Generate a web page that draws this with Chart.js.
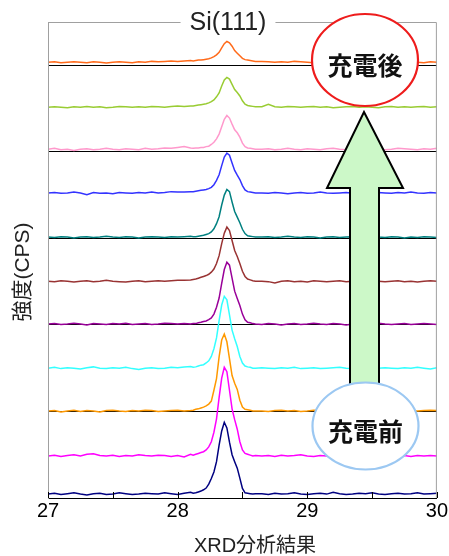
<!DOCTYPE html>
<html>
<head>
<meta charset="utf-8">
<script src="https://cdn.jsdelivr.net/npm/chart.js@4"></script>
<style>
  body { margin: 0; background: #fff; }
  #wrap { width: 449px; height: 556px; }
</style>
</head>
<body>
<div id="wrap"><canvas id="xrdChart"></canvas></div>
<script>
// 2theta (deg)
const angles = [
  27.00, 27.05, 27.10, 27.15, 27.20, 27.25, 27.30, 27.35, 27.40, 27.45, 27.50, 27.55,
  27.60, 27.65, 27.70, 27.75, 27.80, 27.85, 27.90, 27.95, 28.00, 28.05, 28.10,
  28.12, 28.14, 28.16, 28.18, 28.20, 28.22, 28.24, 28.26, 28.28, 28.30, 28.32, 28.34,
  28.36, 28.38, 28.40, 28.42, 28.44, 28.46, 28.48, 28.50, 28.52, 28.54, 28.56, 28.58, 28.60,
  28.65, 28.70, 28.75, 28.80, 28.85, 28.90, 28.95, 29.00, 29.05, 29.10, 29.15, 29.20,
  29.25, 29.30, 29.35, 29.40, 29.45, 29.50, 29.55, 29.60, 29.65, 29.70, 29.75, 29.80,
  29.85, 29.90, 29.95, 30.00
];

// intensities, bottom trace (充電前) first, top trace (充電後) last
const trace1 = [
  9, 11, 8, 10, 12, 9, 7, 10, 11, 8, 9, 12, 10, 8, 9, 11, 10, 9, 12, 10, 8, 11, 13,
  11, 12, 14, 16, 19, 23, 32, 45, 60, 84, 122, 155, 175, 162, 129, 100, 84, 69, 46, 22, 12, 11, 10, 9, 10,
  10, 8, 11, 9, 10, 12, 9, 8, 10, 11, 9, 13, 10, 8, 9, 11, 10, 12, 9, 8, 10, 11, 9, 10, 12, 9, 10, 11
];
const trace2 = [
  -3, -1, -4, -2, 0, -3, 1, 2, -2, -3, -1, -4, -2, -3, 0, -2, -3, -1, -2, -4, -2, -5, 1,
  -1, 1, 3, 5, 7, 11, 18, 30, 52, 83, 132, 177, 202, 192, 149, 106, 81, 59, 30, 11, 3, 1, -1, -3, -2,
  -3, -2, -4, -1, -3, -2, 0, -3, -4, -2, -3, -1, -3, -2, -4, -2, -3, -5, -2, -3, -1, -3, -2, -4, -2, -3, -2, -3
];
const trace3 = [
  1, 2, -1, 1, 3, 0, 2, 1, -1, 2, 3, 1, 0, 2, 1, 3, 2, 0, 1, 2, 3, 1, 2,
  3, 5, 6, 8, 10, 13, 17, 24, 49, 76, 126, 165, 179, 161, 122, 83, 65, 51, 26, 10, 5, 4, 3, 1, 1,
  1, 0, 2, 3, 1, 2, 0, 1, 3, 2, 1, 2, 0, 1, 2, 1, 3, 2, 1, 0, 2, 3, 4, 2, 1, 2, 3, 2
];
const trace4 = [
  0, 2, -1, 1, 0, -2, 1, 3, 0, -1, 1, 0, 2, -1, -3, 0, 1, -1, 0, 2, 1, 3, 4,
  2, 3, 5, 7, 8, 12, 17, 27, 45, 70, 110, 146, 166, 158, 123, 88, 68, 50, 27, 12, 5, 3, 2, 0, 0,
  1, 0, -1, 1, 0, 2, -1, 0, 1, -1, 0, 1, 2, 0, -1, 1, 0, -2, 0, 1, 0, -1, 1, 0, 2, 0, -2, 1
];
const trace5 = [
  2, 3, 1, 2, 4, 2, 0, 3, 2, 1, 3, 2, 4, 1, 2, 3, 1, 2, 4, 3, 2, 3, 2,
  3, 3, 5, 6, 8, 9, 12, 16, 25, 41, 62, 96, 128, 145, 138, 108, 78, 61, 45, 25, 12, 6, 5, 3, 2,
  1, 3, 2, 0, 2, 3, 1, 2, 4, 2, 1, 3, 2, 0, 2, 1, 3, 2, 4, 2, 1, 2, 3, 1, 2, 3, 2, 1
];
const trace6 = [
  1, 0, 2, 1, -1, 1, 2, 0, 1, 3, 1, 0, -1, 1, 2, 0, 1, 2, 1, 2, 3, 3, 4,
  5, 6, 8, 10, 12, 14, 17, 22, 29, 42, 60, 88, 112, 126, 118, 95, 72, 58, 42, 24, 12, 6, 4, 2, 1,
  1, 0, -3, 1, 2, 0, 1, -1, 2, 1, 0, 1, 2, 0, 1, -1, 0, 2, 1, 0, 1, 2, 0, 1, -1, 1, 2, 1
];
const trace7 = [
  3, 2, 4, 3, 1, 3, 4, 2, 3, 5, 3, 2, 4, 3, 1, 3, 4, 3, 2, 4, 3, 4, 5,
  4, 4, 5, 6, 7, 9, 11, 15, 22, 34, 50, 77, 100, 113, 108, 84, 62, 49, 36, 21, 11, 6, 5, 4, 3,
  3, 4, 2, 3, 5, 3, 2, 4, 3, 1, 3, 4, 2, 3, 4, 2, 3, 5, 3, 2, 4, 3, 1, 3, 2, 4, 3, 2
];
const trace8 = [
  5, 6, 4, 5, 7, 5, 1, 6, 4, 5, 3, 6, 5, 4, 6, 5, 7, 5, 6, 8, 7, 7, 8,
  8, 9, 10, 11, 12, 13, 15, 18, 24, 34, 47, 68, 88, 97, 92, 74, 57, 46, 36, 22, 12, 8, 7, 6, 5,
  5, 4, 6, 5, 3, 5, 6, 4, 5, 7, 5, 4, 5, 6, 4, 5, 3, 5, 6, 5, 4, 6, 5, 7, 5, 4, 6, 5
];
const trace9 = [
  6, 8, 5, 6, 3, 6, 7, 5, 6, 8, 6, 5, 7, 6, 5, 8, 6, 7, 9, 8, 10, 12, 9,
  8, 9, 9, 10, 10, 12, 13, 17, 22, 30, 41, 58, 75, 84, 78, 64, 51, 44, 34, 20, 12, 9, 8, 7, 6,
  6, 7, 5, 6, 8, 6, 5, 7, 6, 5, 7, 8, 6, 5, 7, 6, 8, 6, 7, 5, 6, 8, 7, 6, 5, 7, 6, 8
];
const trace10 = [
  3, 4, 3, 2, 4, 3, 5, 3, 4, 2, 3, 5, 4, 3, 4, 3, 5, 4, 3, 5, 6, 5, 6,
  6, 7, 8, 9, 10, 11, 13, 16, 20, 27, 36, 52, 66, 72, 68, 56, 44, 37, 29, 18, 10, 7, 6, 5, 4,
  4, 10, 4, 3, 5, 4, 3, 4, 5, 3, 4, 2, 3, 4, 5, 3, 4, 3, 2, 4, 5, 3, 4, 3, 4, 5, 3, 4
];
const trace11 = [
  7, 8, 6, 7, 8, 7, 6, 8, 7, 5, 7, 8, 7, 6, 8, 7, 9, 8, 9, 10, 9, 10, 11,
  10, 11, 12, 12, 13, 14, 15, 17, 20, 24, 30, 40, 50, 55, 52, 44, 34, 28, 22, 16, 13, 12, 11, 10, 9,
  9, 8, 7, 8, 7, 9, 8, 7, 6, 8, 7, 8, 9, 7, 6, 8, 7, 8, 6, 7, 8, 7, 9, 8, 7, 6, 8, 7
];

const traces = [trace1, trace2, trace3, trace4, trace5, trace6, trace7, trace8, trace9, trace10, trace11];
const colors = ['#000080', '#ff00ff', '#ff9900', '#33ffff', '#990099', '#993333',
                '#008080', '#3333ff', '#ff99cc', '#99cc33', '#ff6a1a'];

const XTICK_LABELS = [27, 28, 29, 30];
const STEP = 100; // each trace shifted up by one step

const FONT = "'Liberation Sans', 'Noto Sans CJK JP', Arial, sans-serif";
const JP_FONT = "'Noto Sans CJK JP', 'Liberation Sans', sans-serif";

const datasets = traces.map((vals, i) => ({
  data: vals.map((v, j) => ({ x: angles[j], y: (v + i * STEP) / STEP })),
  borderColor: colors[i],
  borderWidth: 1.5,
  pointRadius: 0,
  tension: 0,
  fill: false
}));

// frame, inward ticks, titles and the arrow / ellipse notes
const decorPlugin = {
  id: 'decor',
  afterDraw(chart) {
    const ctx = chart.ctx;
    const a = chart.chartArea;
    const xs = chart.scales.x;
    ctx.save();

    // gray frame on left, top and right
    ctx.strokeStyle = '#a0a0a0';
    ctx.lineWidth = 1;
    ctx.beginPath();
    ctx.moveTo(a.left + 0.5, a.bottom);
    ctx.lineTo(a.left + 0.5, a.top + 0.5);
    ctx.lineTo(a.right - 0.5, a.top + 0.5);
    ctx.lineTo(a.right - 0.5, a.bottom);
    ctx.stroke();

    // inward tick marks
    ctx.strokeStyle = '#000';
    ctx.beginPath();
    xs.ticks.forEach(t => {
      const px = Math.round(xs.getPixelForValue(t.value)) + 0.5;
      ctx.moveTo(px, a.bottom);
      ctx.lineTo(px, a.bottom - 6);
    });
    ctx.stroke();

    ctx.textAlign = 'center';
    ctx.textBaseline = 'middle';

    // axis titles
    ctx.fillStyle = '#222';
    ctx.font = '20px ' + FONT;
    ctx.fillText('XRD分析結果', 255, 546);
    ctx.save();
    ctx.translate(23, 272);
    ctx.rotate(-Math.PI / 2);
    ctx.font = '21px ' + FONT;
    ctx.fillText('強度(CPS)', 0, 0);
    ctx.restore();

    // title over the top border
    ctx.font = '25px ' + FONT;
    const tx = 228, ty = 23;
    const tw = ctx.measureText('Si(111)').width;
    ctx.fillStyle = '#fff';
    ctx.fillRect(tx - tw / 2 - 9, ty - 12, tw + 18, 24);
    ctx.fillStyle = '#222';
    ctx.fillText('Si(111)', tx, ty);

    // arrow
    ctx.beginPath();
    ctx.moveTo(364, 112);
    ctx.lineTo(403, 188);
    ctx.lineTo(379, 188);
    ctx.lineTo(379, 400);
    ctx.lineTo(350, 400);
    ctx.lineTo(350, 188);
    ctx.lineTo(327, 188);
    ctx.closePath();
    ctx.fillStyle = '#ccf8c8';
    ctx.fill();
    ctx.lineWidth = 2;
    ctx.strokeStyle = '#000';
    ctx.stroke();

    // ellipses
    function note(cx, cy, rx, ry, stroke, text) {
      ctx.beginPath();
      ctx.ellipse(cx, cy, rx, ry, 0, 0, Math.PI * 2);
      ctx.fillStyle = '#fff';
      ctx.fill();
      ctx.lineWidth = 2.2;
      ctx.strokeStyle = stroke;
      ctx.stroke();
      ctx.fillStyle = '#111';
      ctx.font = 'bold 25px ' + JP_FONT;
      ctx.fillText(text, cx, cy + 5);
    }
    note(365, 60, 53, 46, '#ee1c1c', '充電後');
    note(365.5, 426, 53, 43.5, '#9cc8f2', '充電前');

    ctx.restore();
  }
};

const config = {
  type: 'line',
  data: { datasets: datasets },
  options: {
    responsive: true,
    maintainAspectRatio: false,
    animation: false,
    layout: { padding: { left: 9, right: 11, top: 22, bottom: 0 } },
    plugins: {
      legend: { display: false },
      tooltip: { enabled: false }
    },
    scales: {
      x: {
        type: 'linear',
        min: 27,
        max: 30,
        ticks: {
          stepSize: 0.5,
          autoSkip: false,
          maxRotation: 0,
          padding: 1,
          color: '#000',
          font: { family: FONT, size: 20 },
          callback: v => XTICK_LABELS.includes(v) ? String(v) : ''
        },
        grid: { display: true, drawOnChartArea: false, drawTicks: false },
        border: { color: '#000', width: 1 },
        afterFit(scale) { scale.height = 58; }
      },
      y: {
        min: 0,
        max: 11,
        ticks: { display: false, stepSize: 2 },
        grid: {
          drawTicks: false,
          color: c => (c.tick.value % 2 === 0 ? '#000' : 'rgba(0,0,0,0)'),
          lineWidth: 1
        },
        border: { color: '#a0a0a0', width: 1 },
        afterFit(scale) { scale.width = 39; }
      }
    }
  },
  plugins: [decorPlugin]
};

const ctx1 = document.getElementById('xrdChart').getContext('2d');
const xrdChart = new Chart(ctx1, config);
</script>
</body>
</html>
